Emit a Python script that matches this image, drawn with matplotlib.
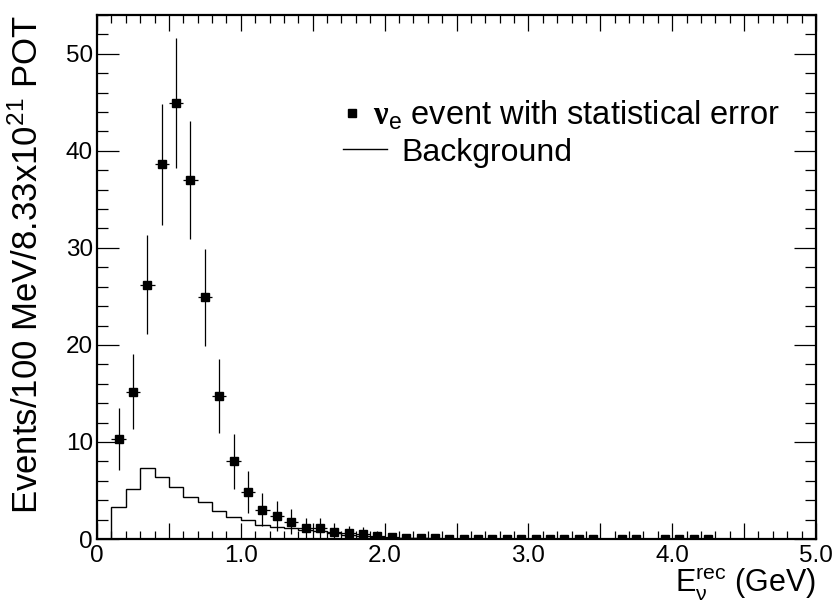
import matplotlib
matplotlib.use("Agg")
import matplotlib.pyplot as plt
from matplotlib.ticker import MultipleLocator, FuncFormatter
from matplotlib.lines import Line2D
import numpy as np

plt.rcParams['font.family'] = ['Liberation Sans', 'DejaVu Sans']
plt.rcParams['mathtext.fontset'] = 'custom'
plt.rcParams['mathtext.rm'] = 'Liberation Sans'
plt.rcParams['mathtext.it'] = 'Liberation Sans:italic'
plt.rcParams['mathtext.bf'] = 'Liberation Serif:bold'

# nu_e signal: bin centres (GeV), events, statistical error
sig_x = [0.15, 0.25, 0.35, 0.45, 0.55, 0.65, 0.75, 0.85, 0.95, 1.05,
         1.15, 1.25, 1.35, 1.45, 1.55, 1.65, 1.75, 1.85, 1.95, 2.05,
         2.15, 2.25, 2.35, 2.45, 2.55, 2.65, 2.75, 2.85, 2.95, 3.05,
         3.15, 3.25, 3.35, 3.45, 3.65, 3.75, 3.95, 4.05, 4.15, 4.25]
sig_y = [10.3, 15.2, 26.2, 38.6, 44.9, 37.0, 24.9, 14.7, 8.0, 4.85,
         3.0, 2.37, 1.77, 1.1, 1.1, 0.75, 0.57, 0.52, 0.3, 0.18,
         0.12, 0.09, 0.06, 0.04, 0.04, 0.04, 0.03, 0.03, 0.03, 0.03,
         0.03, 0.03, 0.03, 0.03, 0.02, 0.02, 0.02, 0.02, 0.02, 0.02]
sig_err = [3.2, 3.9, 5.1, 6.2, 6.7, 6.1, 5.0, 3.8, 2.8, 2.2,
           1.7, 1.5, 1.3, 1.05, 1.05, 0.87, 0.75, 0.72, 0.55, 0.42,
           0.35, 0.3, 0.24, 0.2, 0.2, 0.2, 0.17, 0.17, 0.17, 0.17,
           0.17, 0.17, 0.17, 0.17, 0.14, 0.14, 0.14, 0.14, 0.14, 0.14]

# background histogram, 100 MeV bins from 0 to 5 GeV
bkg = [0.0, 3.25, 5.2, 7.27, 6.42, 5.38, 4.37, 3.84, 2.91, 2.28,
       1.93, 1.4, 1.27, 1.1, 0.93, 0.8, 0.6, 0.45, 0.36, 0.25,
       0.15, 0.1, 0.07, 0.05, 0.03, 0.03, 0.03, 0.03, 0.02, 0.02,
       0.02, 0.02, 0.02, 0.02, 0.02, 0.02, 0.02, 0.02, 0.02, 0.02,
       0.02, 0.02, 0.02, 0.0, 0.0, 0.0, 0.0, 0.0, 0.0, 0.0]
edges = np.linspace(0, 5.0, len(bkg) + 1)

fig = plt.figure(figsize=(8.32, 6.07), dpi=100)
ax = fig.add_axes([97 / 832, 1 - 539 / 607, (816 - 97) / 832, (539 - 15) / 607])

ax.stairs(bkg, edges, color='black', linewidth=1.0, baseline=0)
ax.errorbar(sig_x, sig_y, yerr=sig_err, xerr=0.05, fmt='s', color='black',
            markersize=5.5, elinewidth=0.9, capsize=0, zorder=3)

ax.set_xlim(0, 5.0)
ax.set_ylim(0, 54)

ax.xaxis.set_major_locator(MultipleLocator(0.5))
ax.xaxis.set_minor_locator(MultipleLocator(0.1))
ax.yaxis.set_major_locator(MultipleLocator(10))
ax.yaxis.set_minor_locator(MultipleLocator(2))


def xfmt(v, pos):
    if abs(v - round(v)) > 1e-6:
        return ''
    if abs(v) < 1e-6:
        return '0'
    return f'{v:.1f}'


ax.xaxis.set_major_formatter(FuncFormatter(xfmt))
ax.yaxis.set_major_formatter(FuncFormatter(lambda v, p: f'{v:.0f}'))

ax.tick_params(axis='both', which='both', direction='in', top=True, right=True,
               width=0.9, labelsize=17.5)
ax.tick_params(axis='x', which='major', length=11.5, pad=4)
ax.tick_params(axis='x', which='minor', length=5.8)
ax.tick_params(axis='y', which='major', length=15.8, pad=3)
ax.tick_params(axis='y', which='minor', length=7.9)
for s in ax.spines.values():
    s.set_linewidth(1.6)

ax.set_xlabel(r'E$_{\mathrm{ν}}^{\mathrm{rec}}$ (GeV)', fontsize=22, loc='right')
ax.xaxis.set_label_coords(1.0, -0.052)
ax.set_ylabel(r'Events/100 MeV/8.33x10$^{21}$ POT', fontsize=25, loc='top', labelpad=15)

# legend: two rows placed separately to match the original spacing
h_sig = Line2D([], [], marker='s', color='black', linestyle='none', markersize=5.5)
h_bkg = Line2D([], [], color='black', linewidth=1.0)
leg1 = ax.legend([h_sig], [r'$\mathbf{ν}_{\mathrm{e}}$ event with statistical error'],
                 loc='center left', bbox_to_anchor=(0.338, 0.808), frameon=False,
                 fontsize=23.5, handlelength=0.75, handletextpad=0.25,
                 borderpad=0, borderaxespad=0)
ax.add_artist(leg1)
ax.legend([h_bkg], ['Background'], loc='center left', bbox_to_anchor=(0.342, 0.7375),
          frameon=False, fontsize=23, handlelength=1.375, handletextpad=0.44,
          borderpad=0, borderaxespad=0)

fig.savefig('out.png', dpi=100)
